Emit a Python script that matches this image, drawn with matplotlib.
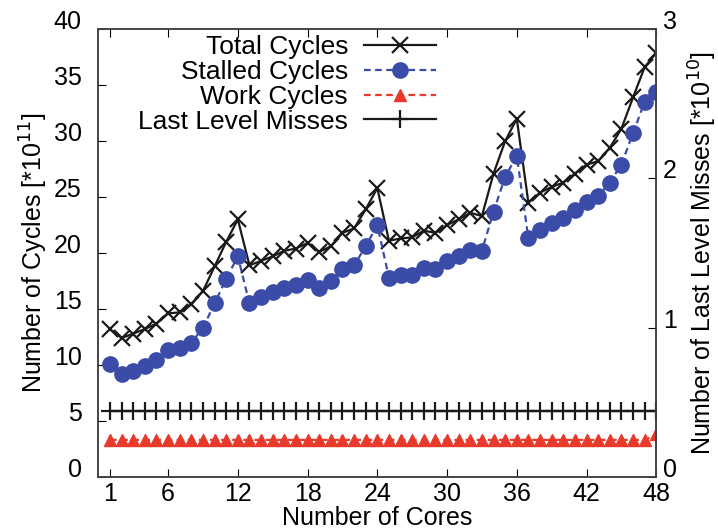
import matplotlib
matplotlib.use("Agg")
import matplotlib.pyplot as plt

plt.rcParams["font.family"] = ["Liberation Sans", "DejaVu Sans"]

cores = list(range(1, 49))

total_cycles = [13.2, 12.4, 12.8, 13.2, 13.7, 14.6, 14.7, 15.4, 16.6, 18.8, 21.0, 23.0,
                18.9, 19.3, 19.7, 20.2, 20.4, 20.9, 20.1, 20.6, 21.8, 22.2, 23.9, 25.8,
                21.1, 21.3, 21.4, 22.0, 21.8, 22.5, 23.0, 23.6, 23.3, 27.1, 30.0, 32.0,
                24.5, 25.4, 25.9, 26.3, 27.1, 27.9, 28.2, 29.4, 31.1, 33.9, 36.6, 37.9]

stalled_cycles = [10.1, 9.2, 9.5, 9.9, 10.4, 11.3, 11.5, 12.0, 13.3, 15.5, 17.7, 19.7,
                  15.5, 16.1, 16.5, 16.9, 17.1, 17.6, 16.9, 17.5, 18.6, 18.9, 20.6, 22.5,
                  17.8, 18.0, 18.0, 18.7, 18.6, 19.3, 19.7, 20.3, 20.2, 23.7, 26.8, 28.7,
                  21.3, 22.1, 22.7, 23.1, 23.8, 24.6, 25.1, 26.3, 27.9, 30.7, 33.5, 34.4]

work_cycles = [3.3] * 47 + [3.8]

ll_misses = [0.44] * 48

BLACK = "#1a1a1a"
BLUE = "#3a4ca8"
RED = "#e8392a"

fig = plt.figure(figsize=(7.18, 5.31), dpi=100)
ax = fig.add_axes([0.137, 0.102, 0.777, 0.843])
ax2 = ax.twinx()

h1, = ax.plot(cores, total_cycles, color=BLACK, lw=1.6, marker="x",
              ms=12, mew=1.6, label="Total Cycles")
h2, = ax.plot(cores, stalled_cycles, color=BLUE, lw=1.6, ls=(0, (3, 2)),
              marker="o", ms=11, label="Stalled Cycles")
h3, = ax.plot(cores, work_cycles, color=RED, lw=1.6, ls=(0, (3, 2)),
              marker="^", ms=9, label="Work Cycles")
h4, = ax2.plot(cores, ll_misses, color=BLACK, lw=1.6, marker="+",
               ms=13, mew=1.6, label="Last Level Misses")

ax.set_xlim(0, 48)
ax.set_ylim(0, 40)
ax2.set_ylim(0, 3)
ax.set_xticks([1, 6, 12, 18, 24, 30, 36, 42, 48])
ax.set_yticks(range(0, 41, 5))
ax2.set_yticks([0, 1, 2, 3])

ax.tick_params(axis="x", direction="in", labelsize=18, length=6, top=True, pad=4)
ax.tick_params(axis="y", direction="in", labelsize=18, length=6, right=False, pad=12)
ax2.tick_params(axis="y", direction="in", labelsize=18, length=6, pad=5)

# y tick labels sit with their baseline on the tick, as in the original
plt.setp(ax.get_yticklabels(), va="baseline")
plt.setp(ax2.get_yticklabels(), va="baseline")

for a in (ax, ax2):
    for s in a.spines.values():
        s.set_color("#444444")
        s.set_linewidth(1.2)

ax.set_xlabel("Number of Cores", fontsize=18, labelpad=0)
ax.set_ylabel(r"Number of Cycles [*10$^{11}$]", fontsize=18, labelpad=3)
ax2.set_ylabel(r"Number of Last Level Misses [*10$^{10}$]", fontsize=18, labelpad=7)

ax.legend(handles=[h1, h2, h3, h4], loc="upper right", bbox_to_anchor=(0.625, 1.01),
          frameon=False, markerfirst=False, fontsize=19, handlelength=2.75,
          labelspacing=0.03, handletextpad=0.6, borderaxespad=0)

fig.savefig("out.png", dpi=100)
